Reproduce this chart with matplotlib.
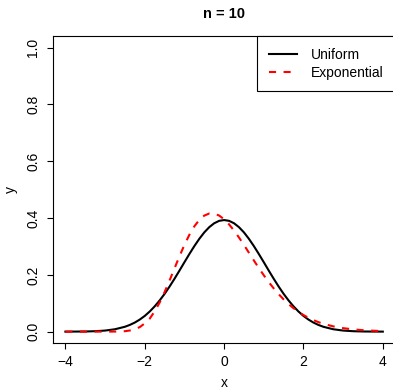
import matplotlib; matplotlib.use("Agg")
import matplotlib.pyplot as plt

plt.rcParams["font.family"] = ["Liberation Sans", "DejaVu Sans"]

# densities (finer steps through the hump)
x = [-4.0, -3.75, -3.5, -3.25, -3.0, -2.75, -2.5, -2.375, -2.25, -2.125, -2.0, -1.875,
     -1.75, -1.625, -1.5, -1.375, -1.25, -1.125, -1.0, -0.875, -0.75, -0.625, -0.5,
     -0.375, -0.25, -0.125, 0.0, 0.125, 0.25, 0.375, 0.5, 0.625, 0.75, 0.875, 1.0,
     1.125, 1.25, 1.375, 1.5, 1.625, 1.75, 1.875, 2.0, 2.125, 2.25, 2.375, 2.5, 2.75,
     3.0, 3.25, 3.5, 3.75, 4.0]
uniform = [0.0, 0.0002, 0.0005, 0.0015, 0.0037, 0.0084, 0.0171, 0.0237, 0.0320, 0.0425,
           0.0553, 0.0708, 0.0889, 0.1097, 0.1330, 0.1587, 0.1862, 0.2150, 0.2444,
           0.2734, 0.3012, 0.3268, 0.3494, 0.3678, 0.3816, 0.3901, 0.3929, 0.3901,
           0.3816, 0.3678, 0.3494, 0.3268, 0.3012, 0.2734, 0.2444, 0.2150, 0.1862,
           0.1587, 0.1330, 0.1097, 0.0889, 0.0708, 0.0553, 0.0425, 0.0320, 0.0237,
           0.0171, 0.0084, 0.0037, 0.0015, 0.0005, 0.0002, 0.0]
exponential = [0.0, 0.0, 0.0, 0.0, 0.0, 0.0002, 0.0015, 0.0040, 0.0085, 0.0160, 0.0290,
               0.0457, 0.0715, 0.1023, 0.1392, 0.1801, 0.2229, 0.2653, 0.3055, 0.3411,
               0.3708, 0.3935, 0.4086, 0.4159, 0.4158, 0.4087, 0.3957, 0.3777, 0.3558,
               0.3314, 0.3052, 0.2779, 0.2506, 0.2240, 0.1985, 0.1745, 0.1523, 0.1319,
               0.1135, 0.0969, 0.0824, 0.0695, 0.0584, 0.0488, 0.0405, 0.0335, 0.0276,
               0.0185, 0.0122, 0.0079, 0.0051, 0.0032, 0.0020]
labels = ["Uniform", "Exponential"]

fig = plt.figure(figsize=(3.93, 3.89), dpi=100)
ax = fig.add_axes([0.1341, 0.1183, 0.8723, 0.7884])
ax.plot(x, uniform, color="black", lw=1.5, label=labels[0])
ax.plot(x, exponential, color="red", lw=1.5, linestyle=(0, (3.4, 3.6)), label=labels[1])

ax.set_xlim(-4.32, 4.32)
ax.set_ylim(-0.04, 1.04)
ax.set_xticks([-4, -2, 0, 2, 4])
ax.set_yticks([0.0, 0.2, 0.4, 0.6, 0.8, 1.0])
ax.set_yticklabels(["0.0", "0.2", "0.4", "0.6", "0.8", "1.0"], rotation=90, va="center")
ax.tick_params(length=4, width=0.8, labelsize=10)
ax.tick_params(axis="x", pad=5)
ax.tick_params(axis="y", pad=5)
for s in ax.spines.values():
    s.set_linewidth(0.8)

ax.set_xlabel("x", fontsize=10, labelpad=4.5)
ax.set_ylabel("y", fontsize=10, labelpad=6)
ax.set_title("n = 10", fontsize=10.5, fontweight="bold", pad=13.5)

leg = ax.legend(loc="upper right", fontsize=10, frameon=True, fancybox=False,
                edgecolor="black", framealpha=1, borderaxespad=0, handlelength=2.0,
                handletextpad=1.0, labelspacing=0.25, borderpad=0.85)
leg.get_frame().set_linewidth(0.8)

fig.savefig("out.png", dpi=100)
